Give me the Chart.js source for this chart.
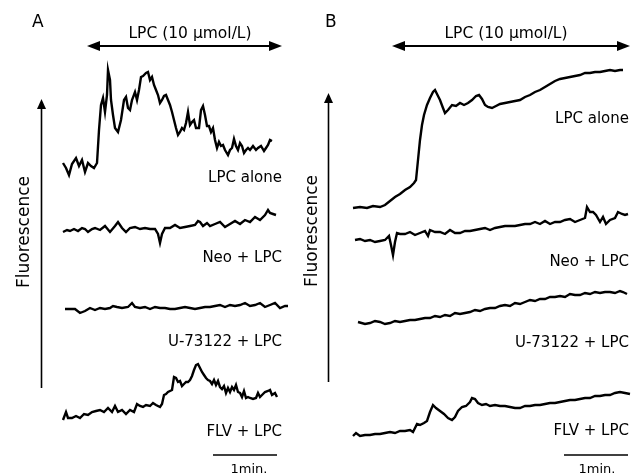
<!DOCTYPE html>
<html>
<head>
<meta charset="utf-8">
<script src="https://cdn.jsdelivr.net/npm/chart.js@4/dist/chart.umd.min.js"></script>
<style>
  html, body { margin: 0; padding: 0; background: #fff; }
  #traces { display: block; }
</style>
</head>
<body>
<canvas id="traces" width="643" height="476"></canvas>
<script>
// trace readings, [time, level] pairs (level grows downward)
const aLpcAlone = [[63,163],[66,168],[69,175],[72,164],[76,158],[79,166],[82,160],[85,172],[88,163],[91,166],[94,168],[97,163],[99,130],[101,105],[103,98],[105,112],[107,95],[108,70],[110,80],[111,100],[113,115],[115,128],[118,132],[121,120],[124,100],[126,97],[128,108],[130,110],[132,100],[135,92],[137,100],[139,90],[141,77],[143,76],[146,73],[148,72],[150,80],[152,77],[154,85],[156,90],[158,95],[160,103],[162,100],[164,96],[166,95],[168,100],[170,105],[172,112],[174,120],[176,128],[178,135],[180,132],[182,128],[184,130],[186,123],[188,112],[190,125],[192,122],[194,120],[196,128],[199,128],[201,110],[203,106],[205,115],[207,126],[209,126],[211,132],[213,128],[215,140],[217,148],[219,142],[221,146],[223,145],[225,150],[228,155],[230,150],[232,148],[234,139],[236,146],[238,150],[240,143],[242,146],[244,153],[246,150],[248,148],[250,150],[253,146],[256,150],[258,148],[261,146],[264,151],[266,148],[268,145],[270,140],[272,141]];
const aNeo = [[63,232],[67,230],[70,231],[74,229],[78,231],[82,228],[85,229],[88,232],[92,229],[95,228],[100,230],[105,226],[110,232],[115,226],[118,222],[122,228],[126,232],[130,228],[135,227],[140,229],[145,228],[150,229],[155,229],[158,234],[160,243],[162,234],[165,228],[170,228],[175,225],[180,228],[185,227],[190,226],[195,225],[198,221],[200,222],[203,226],[207,223],[210,226],[215,224],[220,222],[225,227],[230,224],[235,221],[240,224],[245,220],[250,222],[255,217],[260,220],[265,215],[268,210],[270,213],[273,214],[276,215]];
const aU73122 = [[65,309],[70,309],[75,309],[80,313],[85,311],[90,308],[95,310],[100,308],[105,309],[110,308],[113,306],[117,307],[122,308],[128,307],[132,303],[135,307],[140,308],[145,307],[150,309],[155,307],[160,308],[165,308],[170,309],[175,309],[180,308],[185,307],[190,308],[195,309],[200,308],[205,307],[210,307],[215,306],[220,305],[225,307],[230,305],[235,306],[240,305],[245,303],[250,306],[255,305],[260,303],[265,307],[270,305],[275,303],[280,308],[285,306],[288,306]];
const aFlv = [[63,420],[66,412],[68,418],[72,418],[76,416],[80,418],[84,414],[88,415],[92,412],[96,411],[100,410],[104,412],[108,408],[112,412],[115,406],[118,412],[122,410],[126,414],[130,410],[134,412],[137,404],[140,406],[143,407],[146,405],[150,406],[153,403],[156,405],[160,407],[162,404],[164,395],[166,394],[168,392],[170,391],[172,390],[174,377],[176,378],[178,382],[180,381],[182,386],[184,384],[186,382],[188,382],[190,380],[192,376],[194,370],[196,365],[198,364],[200,368],[202,372],[204,375],[206,378],[208,380],[210,381],[212,384],[214,380],[216,385],[218,381],[220,387],[222,389],[224,386],[226,393],[228,388],[230,392],[232,387],[234,390],[236,385],[238,392],[240,393],[242,397],[244,391],[246,398],[248,397],[250,398],[253,399],[256,398],[258,393],[260,397],[262,395],[265,392],[268,391],[270,390],[272,395],[275,393],[277,397]];

const bLpcAlone = [[353,208],[360,207],[367,208],[373,206],[380,207],[385,205],[390,201],[395,197],[400,194],[405,190],[410,187],[414,183],[416,180],[418,160],[420,140],[422,125],[424,115],[427,105],[430,98],[433,92],[435,90],[437,94],[440,100],[443,108],[445,113],[448,110],[452,105],[456,106],[460,103],[464,105],[468,103],[472,100],[476,96],[479,95],[482,99],[485,105],[488,107],[492,108],[496,106],[500,104],[505,103],[510,102],[515,101],[520,100],[525,97],[530,95],[535,92],[540,90],[545,87],[550,84],[555,81],[560,79],[565,78],[570,77],[575,76],[580,75],[585,73],[590,73],[595,72],[600,72],[605,71],[610,70],[615,71],[620,70],[623,70]];
const bNeo = [[355,240],[360,239],[365,241],[370,240],[375,242],[380,241],[385,240],[389,236],[391,245],[393,255],[395,242],[397,233],[400,234],[405,234],[410,232],[415,235],[420,233],[425,231],[428,236],[430,230],[435,232],[440,232],[445,234],[450,230],[455,233],[460,233],[465,231],[470,231],[475,230],[480,229],[485,228],[490,230],[495,228],[500,227],[505,226],[510,226],[515,226],[520,225],[525,224],[530,224],[535,222],[540,224],[545,221],[550,224],[555,222],[560,222],[565,220],[570,219],[575,222],[580,220],[585,218],[587,207],[590,212],[593,212],[596,215],[600,222],[603,217],[606,224],[610,220],[615,218],[618,212],[622,214],[625,215],[628,214]];
const bU73122 = [[358,322],[365,324],[370,323],[375,321],[380,322],[385,324],[390,323],[395,321],[400,322],[405,321],[410,320],[415,320],[420,319],[425,318],[430,318],[435,316],[440,317],[445,315],[450,316],[455,313],[460,314],[465,313],[470,312],[475,310],[480,311],[485,309],[490,308],[495,308],[500,306],[505,305],[510,306],[515,303],[520,304],[525,302],[530,300],[535,301],[540,299],[545,299],[550,297],[555,297],[560,296],[565,297],[570,294],[575,295],[580,295],[585,293],[590,294],[595,292],[600,293],[605,292],[610,292],[615,293],[620,291],[623,292],[627,294]];
const bFlv = [[353,436],[356,433],[360,436],[365,435],[370,435],[375,434],[380,434],[385,433],[390,432],[395,433],[400,431],[405,431],[410,430],[413,432],[415,428],[417,424],[420,425],[424,423],[427,421],[430,412],[433,405],[436,408],[440,411],[444,414],[448,418],[452,420],[455,417],[458,411],[462,407],[466,406],[470,402],[472,398],[475,399],[478,403],[482,405],[486,404],[490,406],[495,405],[500,406],[505,406],[510,407],[515,408],[520,408],[525,406],[530,406],[535,405],[540,405],[545,404],[550,403],[555,403],[560,402],[565,401],[570,400],[575,400],[580,399],[585,398],[590,398],[595,396],[600,396],[605,395],[610,395],[615,393],[620,392],[625,393],[630,394]];

// trace names, in drawing order
const traceNames = ["LPC alone", "Neo + LPC", "U-73122 + LPC", "FLV + LPC"];
const panelA = [aLpcAlone, aNeo, aU73122, aFlv];
const panelB = [bLpcAlone, bNeo, bU73122, bFlv];

// where each annotation sits (same units as the traces)
const labelRightA = 282, labelRightB = 629;
const labelBaseA = [182, 262, 346, 436];
const labelBaseB = [123, 266, 347, 435];
const lpcSpanA = [87, 282], lpcSpanB = [392, 630], lpcLevel = 46;
const scaleBarA = [213, 277], scaleBarB = [564, 628], scaleBarLevel = 455;

const FONT = '"DejaVu Sans", Verdana, sans-serif';

function toDataset(points) {
  return {
    data: points.map(p => ({ x: p[0], y: p[1] })),
    showLine: true,
    borderColor: "#000",
    borderWidth: 2.4,
    pointRadius: 0,
    tension: 0,
    fill: false,
  };
}

const annotations = {
  id: "annotations",
  afterDatasetsDraw(chart) {
    const ctx = chart.ctx;
    const xs = chart.scales.x, ys = chart.scales.y;
    const px = v => xs.getPixelForValue(v);
    const py = v => ys.getPixelForValue(v);

    ctx.save();
    ctx.strokeStyle = "#000";
    ctx.fillStyle = "#000";

    // double headed LPC arrows
    const hArrow = (x0, x1, y) => {
      ctx.lineWidth = 2;
      ctx.beginPath();
      ctx.moveTo(px(x0) + 6, py(y));
      ctx.lineTo(px(x1) - 6, py(y));
      ctx.stroke();
      [[x0, 1], [x1, -1]].forEach(([x, d]) => {
        ctx.beginPath();
        ctx.moveTo(px(x), py(y));
        ctx.lineTo(px(x) + d * 13, py(y) - 5);
        ctx.lineTo(px(x) + d * 13, py(y) + 5);
        ctx.closePath();
        ctx.fill();
      });
    };
    hArrow(lpcSpanA[0], lpcSpanA[1], lpcLevel);
    hArrow(lpcSpanB[0], lpcSpanB[1], lpcLevel);

    // fluorescence arrows
    const vArrow = (x, top, bottom) => {
      ctx.lineWidth = 1.6;
      ctx.beginPath();
      ctx.moveTo(px(x), py(bottom));
      ctx.lineTo(px(x), py(top) + 6);
      ctx.stroke();
      ctx.beginPath();
      ctx.moveTo(px(x), py(top));
      ctx.lineTo(px(x) - 4.5, py(top) + 10);
      ctx.lineTo(px(x) + 4.5, py(top) + 10);
      ctx.closePath();
      ctx.fill();
    };
    vArrow(41.5, 99, 388);
    vArrow(328.5, 93, 382);

    // 1 min scale bars
    ctx.lineWidth = 1.6;
    [scaleBarA, scaleBarB].forEach(([x0, x1]) => {
      ctx.beginPath();
      ctx.moveTo(px(x0), py(scaleBarLevel));
      ctx.lineTo(px(x1), py(scaleBarLevel));
      ctx.stroke();
    });

    // text
    ctx.textBaseline = "alphabetic";
    ctx.font = "17px " + FONT;
    ctx.textAlign = "left";
    ctx.fillText("A", px(32), py(27));
    ctx.fillText("B", px(325), py(27));

    ctx.font = "15.5px " + FONT;
    ctx.textAlign = "center";
    ctx.fillText("LPC (10 \u03bcmol/L)", px(190), py(38));
    ctx.fillText("LPC (10 \u03bcmol/L)", px(506), py(38));

    ctx.font = "15px " + FONT;
    ctx.textAlign = "right";
    traceNames.forEach((name, i) => {
      ctx.fillText(name, px(labelRightA), py(labelBaseA[i]));
      ctx.fillText(name, px(labelRightB), py(labelBaseB[i]));
    });

    ctx.font = "13px " + FONT;
    ctx.textAlign = "center";
    ctx.fillText("1min.", px(249), py(473));
    ctx.fillText("1min.", px(597), py(473));

    ctx.font = "17px " + FONT;
    [[29, 232], [317, 231]].forEach(([x, y]) => {
      ctx.save();
      ctx.translate(px(x), py(y));
      ctx.rotate(-Math.PI / 2);
      ctx.textAlign = "center";
      ctx.fillText("Fluorescence", 0, 0);
      ctx.restore();
    });

    ctx.restore();
  },
};

new Chart(document.getElementById("traces"), {
  type: "scatter",
  data: { datasets: [...panelA, ...panelB].map(toDataset) },
  options: {
    responsive: false,
    animation: false,
    devicePixelRatio: 1,
    layout: { padding: 0 },
    scales: {
      x: { type: "linear", min: 0, max: 643, display: false },
      y: { type: "linear", min: 0, max: 476, reverse: true, display: false },
    },
    plugins: {
      legend: { display: false },
      tooltip: { enabled: false },
    },
  },
  plugins: [annotations],
});
</script>
</body>
</html>
